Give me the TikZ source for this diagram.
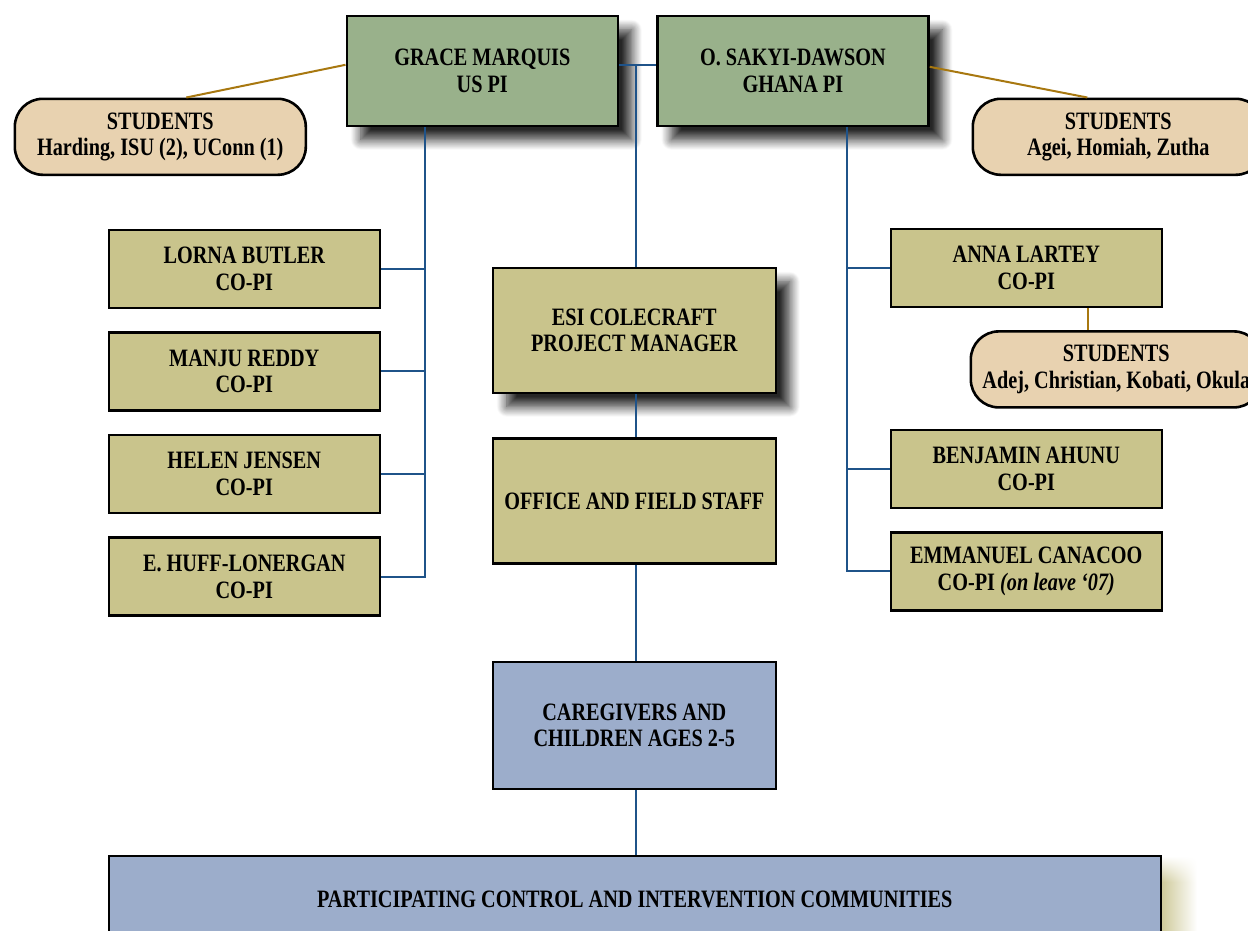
\documentclass[tikz,border=0pt]{standalone}
\usepackage{fontspec}
\setmainfont{Liberation Serif}[FakeStretch=0.81]
\usetikzlibrary{positioning,shadows.blur,shadings}
\definecolor{pigreen}{HTML}{99B18B}
\definecolor{copiolive}{HTML}{C9C48C}
\definecolor{studenttan}{HTML}{E8D2B0}
\definecolor{groundblue}{HTML}{9CADCB}
\definecolor{linkblue}{HTML}{1F5389}
\definecolor{tiegold}{HTML}{A87810}
\definecolor{glowyellow}{HTML}{CCC795}

\begin{document}
\begin{tikzpicture}[x=1pt,y=1pt]
  \newcommand{\boxwidth}[0]{271pt}
  \newcommand{\midwidth}[0]{283pt}
  \newcommand{\copiheight}[0]{78pt}
  \newcommand{\pigap}[0]{37pt}
  \newcommand{\copigap}[0]{22pt}

  \coordinate (origo) at (0,0);
  \useasboundingbox (origo) rectangle (1248,-930);

  \tikzstyle{orgbox}=[
    rectangle,
    draw=black,
    line width=2.6pt,
    anchor=center,
    align=center,
    inner sep=0pt,
    font=\bfseries\fontsize{25}{26.5}\selectfont,
  ]
  \tikzstyle{darkshadow}=[
    blur shadow={shadow xshift=14pt, shadow yshift=-14pt,
      shadow blur radius=10pt, shadow blur steps=12, shadow opacity=85},
  ]
  \tikzstyle{pi}=[
    orgbox,
    darkshadow,
    fill=pigreen,
    minimum width=\boxwidth,
    minimum height=110pt,
  ]
  \tikzstyle{copi}=[
    orgbox,
    fill=copiolive,
    minimum width=\boxwidth,
    minimum height=\copiheight,
  ]
  \tikzstyle{student}=[
    orgbox,
    fill=studenttan,
    rounded corners=28pt,
    minimum width=291pt,
    minimum height=76pt,
  ]
  \tikzstyle{staff}=[
    orgbox,
    fill=copiolive,
    minimum width=\midwidth,
    minimum height=125pt,
  ]
  \tikzstyle{ground}=[
    orgbox,
    fill=groundblue,
    minimum width=\midwidth,
    minimum height=127pt,
  ]
  \tikzstyle{link}=[
    line width=2pt,
    draw=linkblue,
  ]
  \tikzstyle{tie}=[
    line width=2pt,
    draw=tiegold,
  ]

  % principal investigators
  \node[pi,anchor=north west] (grace) at (345.5,-14.5) {GRACE MARQUIS\\US PI};
  \node[pi,anchor=west] (sakyi) at ([xshift=\pigap] grace.east) {O. SAKYI-DAWSON\\GHANA PI};

  % students of the PIs
  \node[student,anchor=north west] (studl) at (13.5,-97.5) {STUDENTS\\Harding, ISU (2), UConn (1)};
  \node[student,anchor=north west] (studr) at (971.5,-97.5) {STUDENTS\\Agei, Homiah, Zutha};

  % left co-PIs
  {
    \node[copi,anchor=north west] (lorna) at (107.5,-228.5) {LORNA BUTLER\\CO-PI};
    \node[copi,anchor=north] (manju) at ([yshift=-\copigap] lorna.south) {MANJU REDDY\\CO-PI};
    \node[copi,anchor=north] (helen) at ([yshift=-\copigap] manju.south) {HELEN JENSEN\\CO-PI};
    \node[copi,anchor=north] (huff) at ([yshift=-\copigap] helen.south) {E. HUFF-LONERGAN\\CO-PI};
  }

  % right co-PIs
  {
    \node[copi,anchor=north west] (anna) at (889.5,-227.5) {ANNA LARTEY\\CO-PI};
    \node[student,anchor=north west] (studa)
      at ([yshift=-\copigap, xshift=80pt] anna.south west) {STUDENTS\\Adej, Christian, Kobati, Okula};
    \node[copi,anchor=north west] (benjamin) at (889.5,-428.5) {BENJAMIN AHUNU\\CO-PI};
    \node[copi,anchor=north] (emmanuel)
      at ([yshift=-\copigap] benjamin.south) {EMMANUEL CANACOO\\CO-PI \textit{(on leave ‘07)}};
  }

  % middle column
  {
    \node[staff,darkshadow,anchor=north west] (esi) at (491.5,-266.5) {ESI COLECRAFT\\PROJECT MANAGER};
    \node[staff,anchor=north] (office) at ([yshift=-43pt] esi.south) {OFFICE AND FIELD STAFF};
    \node[ground,anchor=north] (care) at ([yshift=-96pt] office.south) {CAREGIVERS AND\\CHILDREN AGES 2-5};
    % yellow glow right of the bottom box
    \shade[upper left=white, upper right=white, lower left=glowyellow, lower right=white]
      (1160,-856) rectangle (1197,-882);
    \shade[left color=glowyellow, right color=white]
      (1160,-882) rectangle (1197,-930);
    \node[ground,anchor=north west,minimum width=1052pt,minimum height=88pt]
      (communities) at (107.5,-854.5) {PARTICIPATING CONTROL AND INTERVENTION COMMUNITIES};
  }

  % connectors
  \coordinate (lbus) at ([xshift=-57pt] grace.south);
  \coordinate (rbus) at ([xshift=54pt] sakyi.south);
  \coordinate (ctop) at ([yshift=6pt] grace.east);

  \draw[link] (lbus) |- (huff.east);
  \foreach \n in {lorna,manju,helen}
    \draw[link] (\n.east) -- (\n.east -| lbus);
  \draw[link] (rbus) |- (emmanuel.west);
  \foreach \n in {anna,benjamin}
    \draw[link] (\n.west) -- (\n.west -| rbus);

  \draw[link] (ctop) -- ([yshift=6pt] sakyi.west);
  \draw[link] ([xshift=2pt] esi.north) -- ([xshift=2pt] esi.north |- ctop);
  \draw[link] ([xshift=2pt] esi.south) -- ([xshift=2pt] office.north);
  \draw[link] ([xshift=2pt] office.south) -- ([xshift=2pt] care.north);
  \draw[link] ([xshift=2pt] care.south) -- ([xshift=2pt] care.south |- communities.north);

  \draw[tie] ([yshift=6pt] grace.west) -- ([xshift=26pt] studl.north);
  \draw[tie] ([yshift=4pt] sakyi.east) -- ([xshift=-31pt] studr.north);
  \draw[tie] ([xshift=62pt] anna.south) -- ([xshift=62pt] anna.south |- studa.north);
\end{tikzpicture}
\end{document}
